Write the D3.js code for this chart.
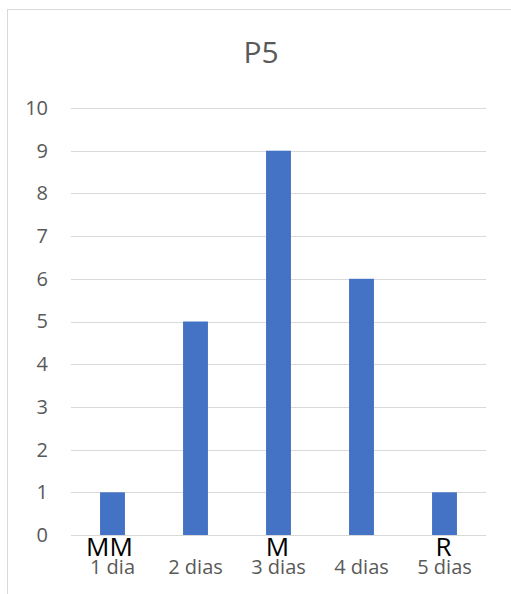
<!DOCTYPE html>
<html>
<head>
<meta charset="utf-8">
<script src="https://cdn.jsdelivr.net/npm/d3@7"></script>
<style>
  html, body { margin: 0; padding: 0; background: #fff; }
  svg { display: block; }
</style>
</head>
<body>
<svg id="chart" width="511" height="594"></svg>
<script>
// Counts per number of days
const title = "P5";
const categories = ["1 dia", "2 dias", "3 dias", "4 dias", "5 dias"];
const values = [1, 5, 9, 6, 1];
const markers = ["MM", "", "M", "", "R"];
const yTicks = [0, 1, 2, 3, 4, 5, 6, 7, 8, 9, 10];

const svg = d3.select("#chart");
const W = 511, H = 594;
const plot = { left: 71, right: 486, top: 108, bottom: 535 };
const font = "'Open Sans', sans-serif";

// chart frame
svg.append("rect")
  .attr("x", 7.5).attr("y", 9.5)
  .attr("width", W + 10).attr("height", H + 10)
  .attr("fill", "#fff").attr("stroke", "#d9d9d9").attr("stroke-width", 1);

const x = d3.scaleBand().domain(categories).range([plot.left, plot.right]).paddingInner(0.7).paddingOuter(0.35);
const y = d3.scaleLinear().domain([0, 10]).range([plot.bottom, plot.top]);

// gridlines
svg.append("g").selectAll("line").data(yTicks).join("line")
  .attr("x1", plot.left).attr("x2", plot.right)
  .attr("y1", d => Math.round(y(d)) + 0.5).attr("y2", d => Math.round(y(d)) + 0.5)
  .attr("stroke", "#d9d9d9").attr("stroke-width", 1);

// y axis labels
const yAxis = svg.append("g")
  .attr("transform", `translate(${plot.left},0)`)
  .call(d3.axisLeft(y).tickValues(yTicks).tickSize(0).tickPadding(23));
yAxis.select(".domain").remove();
yAxis.selectAll("text")
  .attr("fill", "#595959").style("font-family", font).style("font-size", "20px");

// bars
svg.append("g").selectAll("rect").data(values).join("rect")
  .attr("x", (d, i) => x(categories[i]))
  .attr("width", x.bandwidth())
  .attr("y", d => y(d))
  .attr("height", d => y(0) - y(d))
  .attr("fill", "#4472c4");

// x axis labels
const xAxis = svg.append("g")
  .attr("transform", `translate(0,${plot.bottom})`)
  .call(d3.axisBottom(x).tickSize(0).tickPadding(0));
xAxis.select(".domain").remove();
xAxis.selectAll("text")
  .attr("dy", null).attr("y", 39)
  .attr("fill", "#595959").style("font-family", font).style("font-size", "20px");

// marker letters above the category labels
svg.append("g").selectAll("text").data(markers).join("text")
  .attr("x", (d, i) => x(categories[i]) + x.bandwidth() / 2 - (d.length > 1 ? 3 : 1))
  .attr("y", plot.bottom + 21)
  .attr("text-anchor", "middle")
  .attr("fill", "#000")
  .style("font-family", font).style("font-size", "26px")
  .text(d => d);

// title
svg.append("text")
  .attr("x", 261).attr("y", 63)
  .attr("text-anchor", "middle")
  .attr("fill", "#595959")
  .style("font-family", font).style("font-size", "30px")
  .text(title);
</script>
</body>
</html>
